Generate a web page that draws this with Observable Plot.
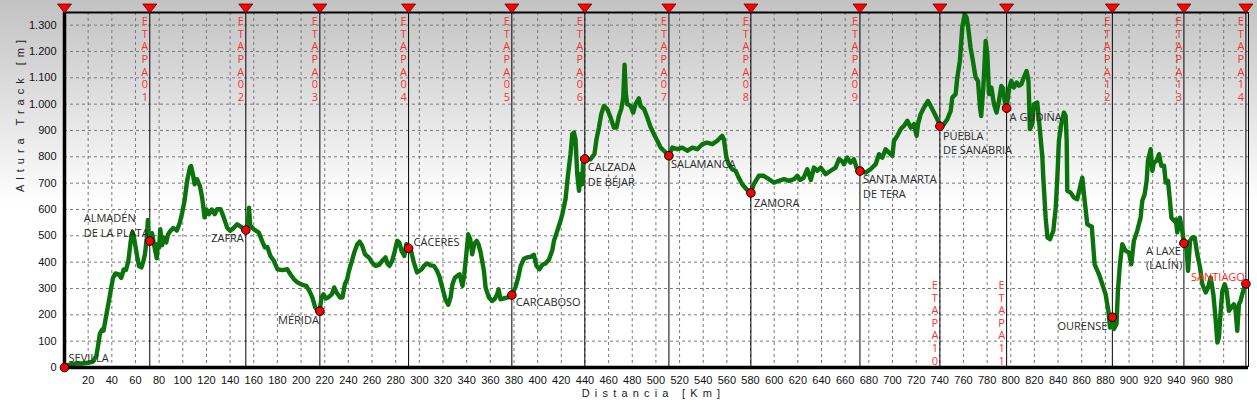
<!DOCTYPE html>
<html>
<head>
<meta charset="utf-8">
<script src="https://cdn.jsdelivr.net/npm/d3@7"></script>
<script src="https://cdn.jsdelivr.net/npm/@observablehq/plot@0.6"></script>
<style>
  body { margin: 0; background: #fff; }
</style>
</head>
<body>
<div id="chart"></div>
<script>
// ---- Data ----
// Elevation profile: [distance km, altitude m]
const profile = [
[0,5],[5,12],[10,15],[15,15],[20,18],[24,22],[27,45],[29,100],[30,130],[32,145],[33,140],[35,190],[37,240],[39,290],[41,340],[43,357],[46,354],[48,340],[50,372],[52,370],[54,405],[56,480],[57.5,515],[58.5,500],[60,460],[61.5,420],[63,385],[65,380],[66.5,400],[68,430],[69.5,490],[70.5,560],[71.2,490],[72,481],
[74,510],[76,460],[78,415],[79,470],[80,455],[81,525],[82.6,465],[84,494],[86,475],[87.5,505],[89.6,519],[92,530],[95,520],[97.5,550],[99.5,588],[101.5,633],[103.7,709],[106,759],[107,765],[108.8,728],[110,696],[112,715],[114.4,690],[116.4,645],[118.4,570],[120,600],[122,582],[124.5,600],[127,582],[129,601],[132,601],[134.7,569],[137.5,531],[140,519],[143,530],[146,544],[149,535],[153.3,521],
[155,540],[156,607],[157,540],[160,525],[164.3,512],[167,481],[169.4,456],[171.5,458],[174,424],[177,405],[180,373],[184,370],[188.3,373],[191,354],[194,335],[197,323],[201,314],[204.4,310],[207,291],[209.5,266],[212,228],[213.7,218],[215.6,213],
[217.3,266],[219,278],[221,262],[223,266],[226,278],[228,304],[230,285],[233,266],[235,266],[237,316],[239,335],[240.5,367],[243,405],[245,437],[247.5,468],[249.5,478],[251.7,462],[254,430],[257.3,418],[260,399],[263,386],[266,390],[268.6,405],[271.4,418],[273,395],[274.8,386],[277,405],[279.3,443],[281.3,481],[283,475],[285,443],[287.3,424],[289,468],[291.1,453],
[293,443],[295,405],[298,361],[300,367],[302,373],[304,386],[306.7,395],[309.5,388],[312.3,386],[315,367],[317,345],[319.4,304],[322,259],[324.4,238],[326.4,266],[328,316],[330,340],[332,348],[334,354],[336.5,310],[338,354],[340,443],[341.3,506],[343,488],[344.7,430],[346.5,470],[348.4,481],[350,468],[351.8,437],[354.6,367],[356,304],[358.8,266],[361.6,253],[363.5,259],[365.8,278],[367,297],[368.6,259],[371,262],[374.9,266],[376.5,268],[378.2,275],
[381.3,305],[383.6,342],[385.6,385],[388.4,413],[391.2,418],[394,420],[396.8,428],[399,386],[401.5,373],[404,390],[406.7,395],[409.6,410],[412.4,445],[413.8,481],[416.6,519],[418,538],[419.4,557],[421,585],[423.6,640],[425.6,728],[427.8,810],[429.3,886],[430.7,892],[432,867],[433.5,734],[435,671],[436.3,734],[437.7,696],[438.5,780],[440,791],
[444.7,791],[448,810],[449.8,867],[451.8,911],[453.8,962],[456,993],[458.9,981],[461.7,949],[464.5,911],[466.7,911],[468.7,955],[470.7,981],[472.4,1025],[473.5,1150],[474.6,1038],[475.8,1000],[478.6,993],[480.8,968],[482.8,1000],[485.6,1022],[487,993],[488.5,987],[490,981],[492.5,952],[495.3,915],[498.3,886],[501.2,861],[504,835],[506.8,823],[511,804],
[513.9,835],[518,829],[522.3,835],[526.5,823],[530.8,835],[535,829],[539.2,848],[543.4,854],[547.7,848],[551.9,861],[556,880],[557.5,865],[559.6,797],[561.6,772],[564.5,753],[567.3,747],[570,721],[573,696],[576.6,677],[580.3,664],
[582.8,696],[587,728],[591,728],[595.6,715],[599.8,702],[604,709],[608.3,715],[612.5,709],[616.8,715],[619.6,728],[622,712],[625,721],[628,753],[631,712],[633.6,759],[636.5,747],[639.3,759],[643.5,734],[647.8,747],[651.9,759],[654.8,791],[657,785],[659,772],[661.8,797],[664.5,778],[667.4,791],[669.6,759],[672.5,744],
[677.3,740],[681.5,753],[685.8,772],[688.6,810],[691.4,797],[694.2,829],[697,816],[699.9,804],[701.3,861],[704.1,880],[706.9,905],[709.8,918],[712.6,937],[715.4,911],[718.2,924],[720.4,880],[721.6,924],[723.8,962],[726.6,987],[730,1012],[732.3,993],[735.1,968],[737.9,943],[740.1,916],
[743.5,924],[746.4,943],[749.2,974],[750.6,1025],[753.4,1038],[754.8,1101],[757,1164],[759,1291],[761,1341],[762.7,1329],[764,1291],[766,1215],[768,1164],[770.3,1101],[772.3,1088],[774,987],[775,955],[776.8,1063],[778.8,1240],[780.2,1190],[781.6,1038],[783.6,1063],[785.8,1000],[788,968],[790,1012],[792,1069],[793.5,1060],[794.8,1012],[796.5,985],
[798.5,1057],[800.4,1088],[802.7,1063],[805,1082],[807,1070],[809,1076],[811,1101],[813.4,1126],[815,1088],[816.2,905],[818.2,924],[819.6,1000],[822.4,1006],[824.7,898],[826.7,800],[827.5,721],[829.5,569],[831,494],[833.2,487],[836,519],[838,607],[839.4,721],[840.7,860],[842.7,924],[845,968],[846.4,955],[847.3,860],[847.8,671],[850.6,664],[853.4,645],[856.2,639],[858.5,683],[860.5,721],[861.9,658],[864.7,544],[866.9,538],[868.5,535],[870.9,392],[874.6,354],[877.4,316],[880.2,278],[882.5,215],[883.9,152],[885.6,190],
[887.2,146],[889.4,165],[890.6,291],[892.3,392],[894.3,468],[897,443],[899.9,437],[901.9,392],[904.1,481],[906.9,519],[909.8,569],[911.2,633],[913.2,658],[914.9,709],[916,785],[918.3,829],[919.7,747],[921,778],[923.4,785],[925.3,810],[927.3,766],[929.6,766],[931,702],[932.9,709],[934.6,633],[935.8,569],[938,557],[939.5,562],[940.8,513],[943,569],[945,519],[946.5,471],
[948.7,449],[949.9,367],[951.6,481],[953.5,494],[955.5,494],[957.7,430],[960,380],[962,316],[964.8,285],[966.8,304],[969,342],[971.3,278],[973.3,177],[974.7,95],[976,114],[977.5,215],[978.9,291],[980.9,316],[982.5,291],[984.5,215],[986.4,228],[988.7,240],[990,220],[991.5,139],[992.9,240],[994.3,253],[995.7,278],[998.4,316]
];

// Stage boundaries (km) and their names
const stageKm    = [72.1, 153.3, 215.9, 290.9, 378.2, 439.9, 511.0, 580.3, 672.5, 740.1, 796.5, 885.9, 946.4, 998.8];
const stageNames = ["ETAPA01","ETAPA02","ETAPA03","ETAPA04","ETAPA05","ETAPA06","ETAPA07","ETAPA08","ETAPA09","ETAPA10","ETAPA11","ETAPA12","ETAPA13","ETAPA14"];
const markerKm   = [0, ...stageKm];

// Towns
const townNames = ["SEVILLA","ALMADÉN\nDE LA PLATA","ZAFRA","MÉRIDA","CÁCERES","CARCABOSO","CALZADA\nDE BÉJAR","SALAMANCA","ZAMORA","SANTA MARTA\nDE TERA","PUEBLA\nDE SANABRIA","A GUDIÑA","OURENSE","A LAXE\n(LALÍN)","SANTIAGO"];
const townKm    = [0, 72.1, 153.3, 215.9, 290.9, 378.2, 439.9, 511.0, 580.3, 672.5, 740.1, 796.5, 885.9, 946.4, 998.8];
const townM     = [0, 480, 522, 214, 453, 275, 792, 804, 663, 746, 916, 985, 191, 472, 318];

// Axis ticks and titles
const xTicks = d3.range(20, 1000, 20);
const yTicks = d3.range(0, 1301, 100);
const xDomain = [0, 1001];
const yDomain = [0, 1348];
const xTitle = "Distancia [Km]";
const yTitle = "Altura Track [m]";

// ---- Layout (styling only) ----
const labelLayout = {
  "SEVILLA": {anchor: "start", dx: 4, dy: -10},
  "ALMADÉN\nDE LA PLATA": {anchor: "start", dx: -66, dy: -16},
  "ZAFRA": {anchor: "end", dx: -2, dy: 7},
  "MÉRIDA": {anchor: "end", dx: -1, dy: 8},
  "CÁCERES": {anchor: "start", dx: 5, dy: -7},
  "CARCABOSO": {anchor: "start", dx: 4, dy: 6},
  "CALZADA\nDE BÉJAR": {anchor: "start", dx: 3, dy: 15},
  "SALAMANCA": {anchor: "start", dx: 2, dy: 8},
  "ZAMORA": {anchor: "start", dx: 3, dy: 9},
  "SANTA MARTA\nDE TERA": {anchor: "start", dx: 3, dy: 15},
  "PUEBLA\nDE SANABRIA": {anchor: "start", dx: 3, dy: 16},
  "A GUDIÑA": {anchor: "start", dx: 3, dy: 8},
  "OURENSE": {anchor: "end", dx: -5, dy: 8},
  "A LAXE\n(LALÍN)": {anchor: "start", dx: -38, dy: 14},
  "SANTIAGO": {anchor: "end", dx: -1, dy: -7}
};

const towns = townNames.map((n, i) => ({name: n, km: townKm[i], m: townM[i]}));
const stages = stageNames.map((n, i) => ({name: n, km: stageKm[i], letters: n.split("").join("\n")}));
const bottomStage = s => s.name === "ETAPA10" || s.name === "ETAPA11";

const triangleDown = {
  draw(ctx) {
    ctx.moveTo(-7, -4.5);
    ctx.lineTo(7, -4.5);
    ctx.lineTo(0, 4.5);
    ctx.closePath();
  }
};

const labelMarks = towns.map(t => {
  const L = labelLayout[t.name];
  return Plot.text([t], {
    x: "km", y: "m", text: "name",
    textAnchor: L.anchor, dx: L.dx, dy: L.dy,
    lineAnchor: "middle", lineHeight: 1.33,
    fontFamily: "Open Sans", fontSize: 11,
    fill: t.name === "SANTIAGO" ? "#ff2a2a" : "#2a2a2a"
  });
});

const fmtY = d => d3.format(",")(d).replace(/,/g, ".");

const chart = Plot.plot({
  width: 1257,
  height: 402,
  marginLeft: 64,
  marginRight: 9,
  marginTop: 12,
  marginBottom: 35,
  style: {
    background: "linear-gradient(to bottom, #c2c2c2 0px, #ffffff 205px, #ffffff 402px)",
    fontFamily: "Liberation Sans, Arial, sans-serif",
    fontSize: "11px",
    color: "#111",
    overflow: "visible"
  },
  x: {domain: xDomain, ticks: xTicks, tickSize: 0, tickPadding: 9, label: null},
  y: {domain: yDomain, ticks: yTicks, tickSize: 0, tickPadding: 8, tickFormat: fmtY, label: null},
  marks: [
    Plot.ruleX(xTicks, {stroke: "#7a7a7a", strokeDasharray: "3,3", strokeWidth: 1}),
    Plot.ruleY(yTicks.filter(d => d > 0), {stroke: "#7a7a7a", strokeDasharray: "3,3", strokeWidth: 1}),
    Plot.ruleX(stageKm, {stroke: "#000", strokeWidth: 1}),
    Plot.line(profile, {x: d => d[0], y: d => d[1], stroke: "#0b730b", strokeWidth: 4.4, strokeLinejoin: "round", strokeLinecap: "round"}),
    Plot.text(stages.filter(s => !bottomStage(s)), {
      x: "km", y: () => yDomain[1], text: "letters", dx: -5, dy: 4,
      lineAnchor: "top", lineHeight: 1.14, fontFamily: "Open Sans", fontSize: 11, fill: "#ff3030"
    }),
    Plot.text(stages.filter(bottomStage), {
      x: "km", y: () => 0, text: "letters", dx: -5, dy: -3,
      lineAnchor: "bottom", lineHeight: 1.14, fontFamily: "Open Sans", fontSize: 11, fill: "#ff3030"
    }),
    Plot.ruleY([yDomain[1]], {stroke: "#000", strokeWidth: 2}),
    Plot.ruleX([xDomain[1]], {stroke: "#000", strokeWidth: 1}),
    Plot.ruleX([0], {stroke: "#000", strokeWidth: 3.5}),
    Plot.ruleY([0], {stroke: "#000", strokeWidth: 3.5}),
    Plot.dot(towns, {x: "km", y: "m", r: 4.3, fill: "#ff0000", stroke: "#000", strokeWidth: 1}),
    ...labelMarks,
    Plot.dot(markerKm, {x: d => d, y: () => yDomain[1], dy: -4, symbol: triangleDown, fill: "#ff0000", stroke: "#600", strokeWidth: 0.8}),
    Plot.text([yTitle], {frameAnchor: "left", dx: -44, dy: 2, rotate: -90, text: d => d, fontFamily: "Liberation Sans, Arial, sans-serif", fontSize: 11, fill: "#222"}),
    Plot.text([xTitle], {frameAnchor: "bottom", dy: 29, dx: -3, text: d => d, fontFamily: "Liberation Sans, Arial, sans-serif", fontSize: 11, fill: "#222"})
  ]
});
d3.select(chart).selectAll("text")
  .filter(function() { return this.textContent === yTitle; })
  .style("letter-spacing", "5px");
d3.select(chart).selectAll("text")
  .filter(function() { return this.textContent === xTitle; })
  .style("letter-spacing", "5.2px");
document.getElementById("chart").appendChild(chart);
</script>
</body>
</html>
